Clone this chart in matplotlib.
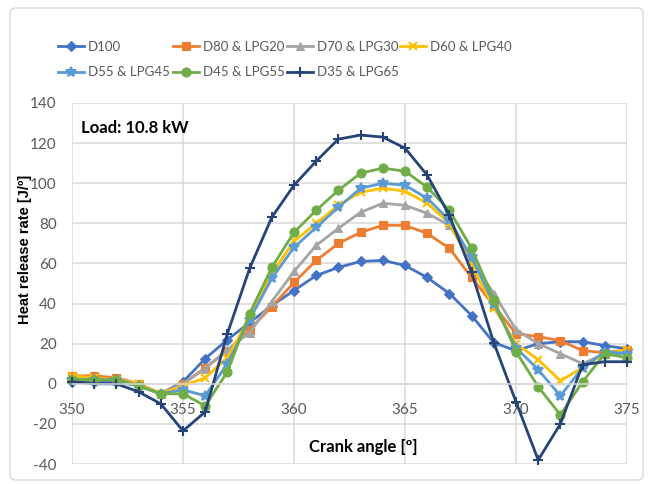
import matplotlib
matplotlib.use("Agg")
import matplotlib.pyplot as plt
from matplotlib.patches import FancyBboxPatch
import numpy as np

# crank angle (deg) and heat release rate (J/deg) for each fuel blend
angle = np.arange(350, 376)

d100 = [1, 1, 1, -1, -5, 1, 12.5, 22, 30.5, 39, 46.5, 54, 58, 61, 61.5,
        59, 53, 45, 34, 20.5, 16.5, 20, 21, 21, 19, 17.5]
d80_lpg20 = [4, 4, 3, 0, -5, 0, 8, 16.5, 27, 38.5, 50.5, 61.5, 70, 75.5, 79,
             79, 75, 67.5, 53, 39, 25, 23.5, 21.5, 16.5, 15.5, 17]
d70_lpg30 = [3, 3, 2, 0, -5, 0, 7.5, 17, 25.5, 41, 56, 69, 77.5, 85.5, 90,
             89, 85, 79, 62, 45, 27, 20, 15, 10, 15, 15]
d60_lpg40 = [4, 3, 2, 0, -5, -1, 3, 13, 33, 55, 71, 80, 89, 95.5, 97.5,
             96, 90, 80, 59, 38, 20, 12, 1.5, 8, 15, 17]
d55_lpg45 = [2, 2, 2, -1, -5, -3, -6, 10, 32, 52.5, 68, 78, 88, 97.5, 100,
             99, 92.5, 81.5, 63, 40, 18, 7, -6, 8, 16, 15]
d45_lpg55 = [2, 2, 2, -1, -5, -5, -11, 6, 35, 58, 75.5, 86.5, 96.5, 105, 107.5,
             106, 98, 86.5, 67.5, 42, 16, -1.5, -15.5, 1, 15, 13]
d35_lpg65 = [1, 0, 0, -4, -10, -23.5, -14, 25, 57.5, 83, 99, 111, 122, 124, 123,
             117.5, 104, 84, 55.5, 20.5, -9, -38, -20, 9.5, 11, 11]

labels = ["D100", "D80 & LPG20", "D70 & LPG30", "D60 & LPG40",
          "D55 & LPG45", "D45 & LPG55", "D35 & LPG65"]
series = [d100, d80_lpg20, d70_lpg30, d60_lpg40, d55_lpg45, d45_lpg55, d35_lpg65]
colors = ["#4472C4", "#ED7D31", "#A5A5A5", "#FFC000", "#5B9BD5", "#70AD47", "#264478"]
markers = ["D", "s", "^", "x", "*", "o", "+"]
msizes = [5, 6, 6, 6, 7, 6.5, 7]

plt.rcParams["axes.unicode_minus"] = False
font = "Lato"
grid_c = "#D9D9D9"
tick_c = "#595959"

fig = plt.figure(figsize=(6.49, 4.84), dpi=100)
fig.patch.set_facecolor("white")
fig.add_artist(FancyBboxPatch((10 / 649, 4 / 484), 633 / 649, 472 / 484,
                              boxstyle="round,pad=0,rounding_size=0.01",
                              transform=fig.transFigure, facecolor="none",
                              edgecolor=grid_c, linewidth=1.0))

ax = fig.add_axes([72 / 649, 20 / 484, 555 / 649, 361 / 484])

lines = []
for y, lab, c, m, ms in zip(series, labels, colors, markers, msizes):
    ln, = ax.plot(angle, y, color=c, marker=m, markersize=ms, linewidth=2.0,
                  markeredgewidth=1.5 if m in ("x", "+", "*") else 0.8,
                  markeredgecolor=c, label=lab, clip_on=False)
    lines.append(ln)

ax.set_xlim(350, 375)
ax.set_ylim(-40, 140)
ax.set_xticks(np.arange(350, 376, 5))
ax.set_yticks(np.arange(-40, 141, 20))
ax.grid(True, color=grid_c, linewidth=1.1)
ax.set_axisbelow(True)
for side in ("left", "right", "top"):
    ax.spines[side].set_visible(False)
ax.spines["bottom"].set_position(("data", 0))
ax.spines["bottom"].set_color(grid_c)
ax.spines["bottom"].set_linewidth(1.1)
ax.tick_params(axis="both", length=0, colors=tick_c, labelsize=11)
ax.tick_params(axis="x", pad=14)
ax.tick_params(axis="y", pad=11)
for t in ax.get_xticklabels() + ax.get_yticklabels():
    t.set_fontfamily(font)

ax.text(0.016, 0.93, "Load: 10.8 kW", transform=ax.transAxes, fontsize=12,
        family=font, fontweight="bold", color="black", va="center", ha="left")
ax.text(0.524, 0.047, "Crank angle [º]", transform=ax.transAxes, fontsize=12,
        family=font, fontweight="bold", color="black", va="center", ha="center")
fig.text(25 / 649, 1 - 249 / 484, "Heat release rate [J/º]", rotation=90,
         fontsize=10.5, fontweight="bold", family="Liberation Sans",
         va="center", ha="center")

# legend: one small legend per column, two rows
col_x = [58, 173, 287, 400]
col_items = [[0, 4], [1, 5], [2, 6], [3]]
for x0, items in zip(col_x, col_items):
    leg = fig.legend([lines[i] for i in items], [labels[i] for i in items],
                     loc="upper left", bbox_to_anchor=(x0 / 649, 1 - 41 / 484),
                     frameon=False, borderpad=0, borderaxespad=0,
                     handlelength=2.0, handletextpad=0.25, labelspacing=1.0,
                     prop={"family": font, "size": 9.5})
    for t in leg.get_texts():
        t.set_color(tick_c)

fig.savefig("out.png", dpi=100)
